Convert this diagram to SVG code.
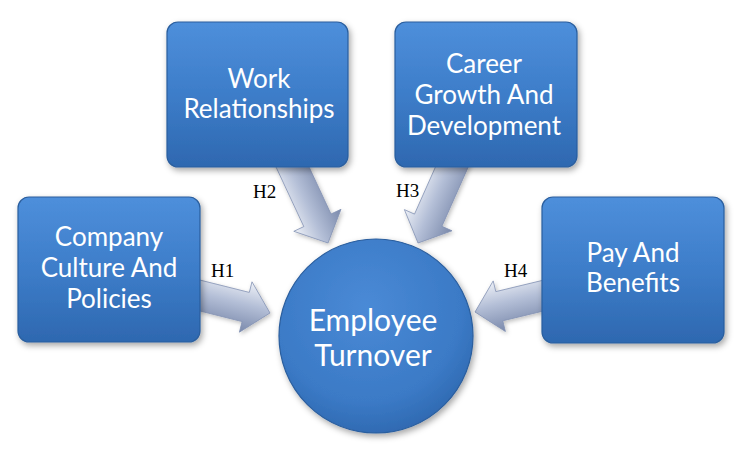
<svg xmlns="http://www.w3.org/2000/svg" width="740" height="449" viewBox="0 0 740 449">
  <defs>
    <linearGradient id="boxFill" x1="0" y1="0" x2="0" y2="1">
      <stop offset="0" stop-color="#4e8fdb"/>
      <stop offset="0.5" stop-color="#3d7dc9"/>
      <stop offset="1" stop-color="#2e68b0"/>
    </linearGradient>
    <radialGradient id="circFill" cx="0.45" cy="0.35" r="0.7">
      <stop offset="0" stop-color="#4a8ad6"/>
      <stop offset="0.7" stop-color="#3b7ac6"/>
      <stop offset="1" stop-color="#2d66ad"/>
    </radialGradient>
    <linearGradient id="g1" gradientUnits="userSpaceOnUse" x1="232.6" y1="276.9" x2="220" y2="327.3">
      <stop offset="0" stop-color="#eef1f7"/><stop offset="0.45" stop-color="#b4bfd7"/><stop offset="1" stop-color="#7a89ab"/>
    </linearGradient>
    <linearGradient id="g2" gradientUnits="userSpaceOnUse" x1="279" y1="199.6" x2="326.2" y2="177.6">
      <stop offset="0" stop-color="#eef1f7"/><stop offset="0.45" stop-color="#b4bfd7"/><stop offset="1" stop-color="#7a89ab"/>
    </linearGradient>
    <linearGradient id="g3" gradientUnits="userSpaceOnUse" x1="418.6" y1="177.6" x2="466.2" y2="198.8">
      <stop offset="0" stop-color="#eef1f7"/><stop offset="0.45" stop-color="#b4bfd7"/><stop offset="1" stop-color="#7a89ab"/>
    </linearGradient>
    <linearGradient id="g4" gradientUnits="userSpaceOnUse" x1="512.6" y1="276.2" x2="524.8" y2="326.8">
      <stop offset="0" stop-color="#eef1f7"/><stop offset="0.45" stop-color="#b4bfd7"/><stop offset="1" stop-color="#7a89ab"/>
    </linearGradient>
    <filter id="shadow" x="-20%" y="-20%" width="140%" height="140%">
      <feDropShadow dx="2" dy="3" stdDeviation="3" flood-color="#000" flood-opacity="0.35"/>
    </filter>
    <filter id="ashadow" x="-20%" y="-20%" width="140%" height="140%">
      <feDropShadow dx="1.5" dy="2" stdDeviation="2" flood-color="#000" flood-opacity="0.25"/>
    </filter>
  </defs>
  <style>
    .box { fill: url(#boxFill); stroke: #2a5e9e; stroke-width: 1.2; filter: url(#shadow); }
    .circ { fill: url(#circFill); stroke: #2a5e9e; stroke-width: 1.2; filter: url(#shadow); }
    .lbl { font-family: Lato, "Open Sans", sans-serif; font-size: 26px; fill: #ffffff; text-anchor: middle; }
    .big { font-size: 30px; }
    .arrow { stroke: #8190b2; stroke-width: 0.8; stroke-linejoin: round; filter: url(#ashadow); }
    .h { font-family: "Liberation Serif", "Times New Roman", serif; font-size: 19px; fill: #000000; }
  </style>
  <rect width="740" height="449" fill="#ffffff"/>

  <g id="connectors">
    <path class="arrow" fill="url(#g1)" d="M188.2,277.1 L249.3,292.4 L252.0,281.8 L270,313 L239.4,332.2 L242.1,321.6 L181.0,306.3 Z"/>
    <path class="arrow" fill="url(#g2)" d="M298.1,143.4 L331.0,214.0 L341.0,209.3 L328,243 L293.8,231.3 L303.8,226.6 L270.9,156.0 Z"/>
    <path class="arrow" fill="url(#g3)" d="M473.2,155.9 L441.9,226.3 L452.0,230.8 L418,243 L404.4,209.6 L414.5,214.1 L445.8,143.7 Z"/>
    <path class="arrow" fill="url(#g4)" d="M563.1,306.3 L502.8,320.8 L505.4,331.5 L475,312 L493.2,280.9 L495.8,291.6 L556.1,277.1 Z"/>
    <text class="h" x="211" y="277">H1</text>
    <text class="h" x="253" y="198">H2</text>
    <text class="h" x="396" y="197">H3</text>
    <text class="h" x="504" y="277">H4</text>
  </g>

  <g id="node-work">
    <rect class="box" x="167" y="22" width="181" height="145" rx="11"/>
    <text class="lbl" x="259" y="88">Work</text>
    <text class="lbl" x="259" y="118">Relationships</text>
  </g>
  <g id="node-career">
    <rect class="box" x="395" y="22" width="182" height="145" rx="11"/>
    <text class="lbl" x="484" y="73">Career</text>
    <text class="lbl" x="484" y="104">Growth And</text>
    <text class="lbl" x="484" y="135">Development</text>
  </g>
  <g id="node-company">
    <rect class="box" x="18" y="197" width="182" height="145" rx="11"/>
    <text class="lbl" x="109" y="246">Company</text>
    <text class="lbl" x="109" y="277">Culture And</text>
    <text class="lbl" x="109" y="308">Policies</text>
  </g>
  <g id="node-pay">
    <rect class="box" x="542" y="197" width="182" height="146" rx="11"/>
    <text class="lbl" x="633" y="262">Pay And</text>
    <text class="lbl" x="633" y="292">Benefits</text>
  </g>
  <g id="node-turnover">
    <circle class="circ" cx="376" cy="336" r="97"/>
    <text class="lbl big" x="373" y="331">Employee</text>
    <text class="lbl big" x="373" y="366">Turnover</text>
  </g>
</svg>
